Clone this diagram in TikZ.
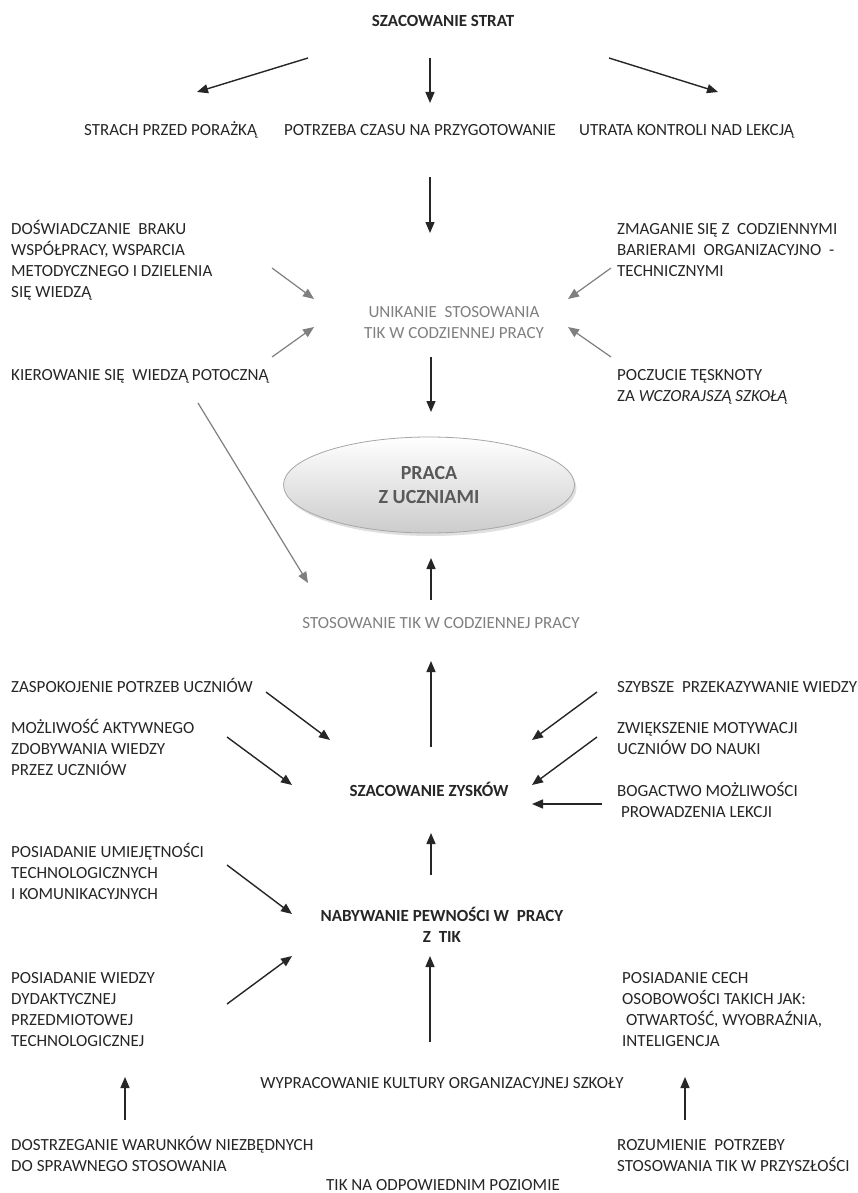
\documentclass[tikz,border=0pt]{standalone}
\usepackage{fontspec}
\setmainfont{Carlito}
\usetikzlibrary{arrows.meta,shapes.geometric,shadows}
\definecolor{txt}{HTML}{262626}
\definecolor{gtxt}{HTML}{808080}
\definecolor{arr}{HTML}{262626}
\definecolor{garr}{HTML}{7F7F7F}
\definecolor{etxt}{HTML}{595959}
\newcommand\lbfont{\fontsize{17}{21}\selectfont}
\newcommand\elfont{\fontsize{20}{24}\selectfont\bfseries}
\tikzset{
  lbl/.style={inner sep=0pt, font=\lbfont, text=txt, align=left, anchor=north west, yshift=9.3pt},
  clbl/.style={lbl, align=center, anchor=north},
  glbl/.style={clbl, text=gtxt},
  ar/.style={draw=arr, line width=1.4pt, -{Triangle[length=11pt,width=9pt]}},
  gar/.style={draw=garr, line width=1.2pt, -{Triangle[length=11pt,width=9pt]}},
}
\begin{document}
\begin{tikzpicture}[x=1pt,y=-1pt]
\useasboundingbox (0,0) rectangle (858,1193);
\fill[white] (0,0) rectangle (858,1193);

% ---- texts ----
\node[clbl] (straty) at (443,21) {\strut\bfseries SZACOWANIE STRAT};
\node[lbl] (strach) at (84,130) {\strut STRACH PRZED PORAŻKĄ};
\node[clbl] (czas) at (420,130) {\strut POTRZEBA CZASU NA PRZYGOTOWANIE};
\node[lbl] (utrata) at (579,130) {\strut UTRATA KONTROLI NAD LEKCJĄ};

\node[lbl] (dosw) at (11,229) {\strut DOŚWIADCZANIE\ \ BRAKU\\WSPÓŁPRACY, WSPARCIA\\METODYCZNEGO I DZIELENIA\\SIĘ WIEDZĄ};
\node[lbl] (zmag) at (617,229) {\strut ZMAGANIE SIĘ Z\ \ CODZIENNYMI\\BARIERAMI\ \ ORGANIZACYJNO\ \ -\\TECHNICZNYMI};
\node[glbl] (unik) at (454,312) {\strut UNIKANIE\ \ STOSOWANIA\\TIK W CODZIENNEJ PRACY};
\node[lbl] (kier) at (11,375) {\strut KIEROWANIE SIĘ\ \ WIEDZĄ POTOCZNĄ};
\node[lbl] (pocz) at (617,375) {\strut POCZUCIE TĘSKNOTY\\ZA \textit{WCZORAJSZĄ SZKOŁĄ}};

\node[ellipse, minimum width=291pt, minimum height=96pt, inner sep=0pt,
      top color=white, bottom color=black!20, draw=black!35, line width=0.8pt,
      drop shadow={opacity=0.25, shadow xshift=2pt, shadow yshift=-3pt},
      font=\elfont, text=etxt, align=center] (praca) at (429,485) {PRACA\\Z UCZNIAMI};

\node[glbl] (stos) at (441,623) {\strut STOSOWANIE TIK W CODZIENNEJ PRACY};

\node[lbl] (zasp) at (11,687) {\strut ZASPOKOJENIE POTRZEB UCZNIÓW};
\node[lbl] (mozl) at (11,728) {\strut MOŻLIWOŚĆ AKTYWNEGO\\ZDOBYWANIA WIEDZY\\PRZEZ UCZNIÓW};
\node[lbl] (szyb) at (617,687) {\strut SZYBSZE\ \ PRZEKAZYWANIE WIEDZY};
\node[lbl] (zwie) at (617,728) {\strut ZWIĘKSZENIE MOTYWACJI\\UCZNIÓW DO NAUKI};
\node[clbl] (zyski) at (429,791) {\strut\bfseries SZACOWANIE ZYSKÓW};
\node[lbl] (bogac) at (617,791) {\strut BOGACTWO MOŻLIWOŚCI\\\ PROWADZENIA LEKCJI};

\node[lbl] (umiej) at (11,852) {\strut POSIADANIE UMIEJĘTNOŚCI\\TECHNOLOGICZNYCH\\I KOMUNIKACYJNYCH};
\node[clbl, font=\lbfont\bfseries] (nab) at (442,916) {\strut NABYWANIE PEWNOŚCI W\ \ PRACY\\Z\ \ TIK};

\node[lbl] (wiedza) at (11,978) {\strut POSIADANIE WIEDZY\\DYDAKTYCZNEJ\\PRZEDMIOTOWEJ\\TECHNOLOGICZNEJ};
\node[lbl] (cech) at (622,978) {\strut POSIADANIE CECH\\OSOBOWOŚCI TAKICH JAK:\\\ OTWARTOŚĆ, WYOBRAŹNIA,\\INTELIGENCJA};
\node[clbl] (kult) at (442,1083) {\strut WYPRACOWANIE KULTURY ORGANIZACYJNEJ SZKOŁY};

\node[lbl] (dostr) at (11,1145) {\strut DOSTRZEGANIE WARUNKÓW NIEZBĘDNYCH\\DO SPRAWNEGO STOSOWANIA};
\node[lbl] (rozum) at (617,1145) {\strut ROZUMIENIE\ \ POTRZEBY\\STOSOWANIA TIK W PRZYSZŁOŚCI};
\node[inner sep=0pt, font=\lbfont, text=txt, anchor=base] (tikna) at (443,1190.5) {TIK NA ODPOWIEDNIM POZIOMIE};

% ---- arrow end points ----
\coordinate (a1s) at (308,58);   \coordinate (a1e) at (197,92);
\coordinate (a2s) at (430,58);   \coordinate (a2e) at (430,103);
\coordinate (a3s) at (609,58);   \coordinate (a3e) at (718,92);
\coordinate (a4s) at (430,177);  \coordinate (a4e) at (430,233);
\coordinate (a5s) at (431,357);  \coordinate (a5e) at (431,412);
\coordinate (a6s) at (431,600);  \coordinate (a6e) at (431,558);
\coordinate (a7s) at (431,747);  \coordinate (a7e) at (431,661);
\coordinate (a8s) at (266,692);  \coordinate (a8e) at (330,740);
\coordinate (a9s) at (227,737);  \coordinate (a9e) at (292,785);
\coordinate (a10s) at (597,692); \coordinate (a10e) at (532,740);
\coordinate (a11s) at (597,737); \coordinate (a11e) at (532,785);
\coordinate (a12s) at (602,804); \coordinate (a12e) at (532,804);
\coordinate (a13s) at (431,875); \coordinate (a13e) at (431,833);
\coordinate (a14s) at (227,865); \coordinate (a14e) at (292,914);
\coordinate (a15s) at (227,1004);\coordinate (a15e) at (292,956);
\coordinate (a16s) at (430,1042);\coordinate (a16e) at (430,956);
\coordinate (a17s) at (125,1120);\coordinate (a17e) at (125,1077);
\coordinate (a18s) at (685,1120);\coordinate (a18e) at (685,1077);
\coordinate (g1s) at (272,268);  \coordinate (g1e) at (314,299);
\coordinate (g2s) at (611,268);  \coordinate (g2e) at (568,299);
\coordinate (g3s) at (272,357);  \coordinate (g3e) at (314,327);
\coordinate (g4s) at (611,357);  \coordinate (g4e) at (568,327);
\coordinate (g5s) at (198,403);  \coordinate (g5e) at (308,583);

% ---- arrows ----
\foreach \i in {1,...,18} { \draw[ar] (a\i s) -- (a\i e); }
\foreach \i in {1,...,5} { \draw[gar] (g\i s) -- (g\i e); }
\end{tikzpicture}
\end{document}
